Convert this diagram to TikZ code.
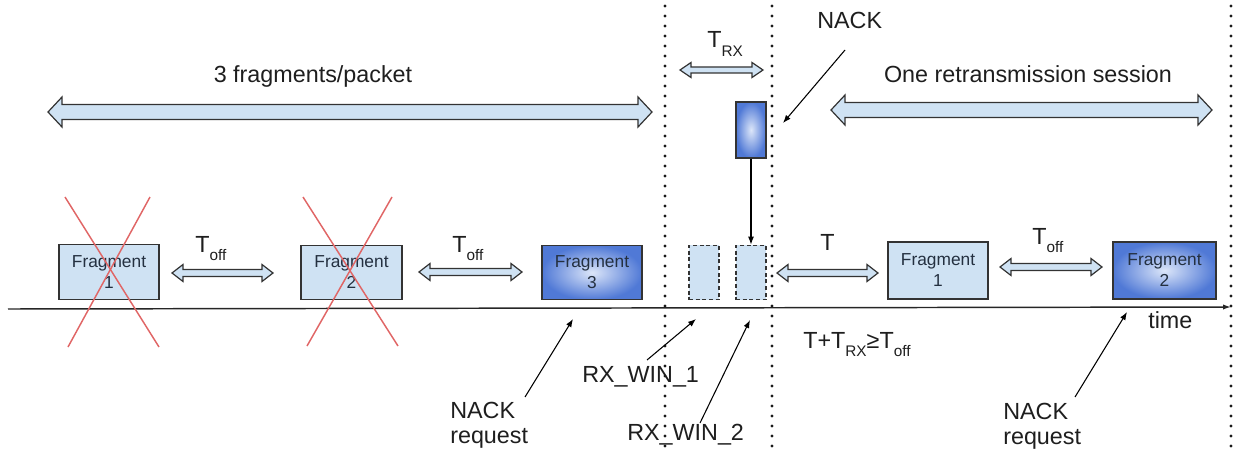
\documentclass[tikz,border=0pt]{standalone}
\usepackage{fontspec}
\setmainfont{Liberation Sans}
\usetikzlibrary{arrows.meta,calc}

\definecolor{lightfill}{HTML}{CFE2F3}
\definecolor{edge}{HTML}{333333}
\definecolor{crossred}{HTML}{E06666}
\definecolor{deepblue}{HTML}{5079D6}
\definecolor{paleblue}{HTML}{DCE6F9}
\definecolor{inktext}{HTML}{1E1E1E}
\definecolor{fragtext}{HTML}{243040}

% lowered subscript used in the timing labels
\newcommand\lowsub[1]{\raisebox{-6.3pt}{\fontsize{11.5}{12}\selectfont #1}}

% two-headed block arrow: start, end, half shaft, half head, head length
\newcommand\spanarrow[5]{%
  \draw[blockarrow] (#1) -- ($(#1)+(#5,#4)$) -- ($(#1)+(#5,#3)$)
    -- ($(#2)+(-#5,#3)$) -- ($(#2)+(-#5,#4)$) -- (#2)
    -- ($(#2)+(-#5,-#4)$) -- ($(#2)+(-#5,-#3)$)
    -- ($(#1)+(#5,-#3)$) -- ($(#1)+(#5,-#4)$) -- cycle;}

\tikzset{
  blockarrow/.style={fill=lightfill, draw=edge, line width=0.9pt, line join=miter},
  frag/.style={draw=edge, line width=0.9pt, fill=lightfill, inner sep=0pt,
    minimum width=75pt, minimum height=41pt, align=center,
    font=\fontsize{13}{15.75}\selectfont, text=fragtext},
  fragdark/.style={frag, shading=radial, inner color=paleblue, outer color=deepblue},
  rxwin/.style={draw=edge, line width=0.8pt, fill=lightfill, dash pattern=on 3pt off 2pt,
    inner sep=0pt, minimum width=22.5pt, minimum height=41pt},
  lbl/.style={inner sep=0pt, text=inktext, font=\fontsize{17.5}{19}\selectfont},
  dotline/.style={draw=black!90, line width=2.4pt, line cap=round, dash pattern=on 0pt off 7.5pt},
  cross/.style={draw=crossred, line width=1.1pt},
  ptr/.style={draw=black, line width=0.8pt, -{Latex[length=6pt,width=4.5pt]}},
  axis/.style={draw=black!85, line width=1.1pt, -{Latex[length=6pt,width=4pt]}}
}

\begin{document}
\begin{tikzpicture}[x=0.75pt, y=-0.75pt]
\useasboundingbox (0,0) rectangle (1234,453);

% time axis
\coordinate (t0) at (8,309);
\coordinate (t1) at (1231,307);
\draw[axis] (t0) -- (t1);

% dotted separators
\coordinate (d1a) at (665,6);   \coordinate (d1b) at (665,450);
\coordinate (d2a) at (772,6);   \coordinate (d2b) at (772,450);
\coordinate (d3a) at (1231,6);  \coordinate (d3b) at (1231,450);
\draw[dotline] (d1a) -- (d1b);
\draw[dotline] (d2a) -- (d2b);
\draw[dotline] (d3a) -- (d3b);

% first packet
\node[frag] (f1) at (109,272) {Fragment\\1};
\node[frag, minimum width=75.75pt] (f2) at (351.5,272.5) {Fragment\\2};
\node[fragdark] (f3) at (592,272.5) {Fragment\\3};

% lost fragments
\draw[cross] (65,197) -- (159,347);
\draw[cross] (150,197) -- (68,347);
\draw[cross] (303,197) -- (398,346);
\draw[cross] (392,197) -- (307,346);

% receive windows and the NACK
\node[rxwin] (w1) at (704,272.5) {};
\node[rxwin] (w2) at (751,272.5) {};
\node[fragdark, minimum width=22.5pt, minimum height=42pt] (nackbox) at (751,130) {};
\draw[ptr] (nackbox.south) -- (w2.north);

% retransmission session
\node[frag, minimum height=42.75pt] (r1) at (938,270.5) {Fragment\\1};
\node[fragdark, minimum width=77.25pt, minimum height=42.75pt] (r2) at (1164.5,270.5) {Fragment\\2};

% span arrows
\coordinate (p0) at (48,112);   \coordinate (p1) at (652,112);
\coordinate (s0) at (831,110);  \coordinate (s1) at (1212,110);
\coordinate (o1a) at (172,273); \coordinate (o1b) at (273,273);
\coordinate (o2a) at (419,272); \coordinate (o2b) at (522,272);
\coordinate (rxa) at (680,70);  \coordinate (rxb) at (763,70);
\coordinate (ta) at (777,273);  \coordinate (tb) at (878,273);
\coordinate (o3a) at (1000,267); \coordinate (o3b) at (1102,267);
\spanarrow{p0}{p1}{7.5}{15}{14}
\spanarrow{s0}{s1}{7.5}{15}{14}
\spanarrow{o1a}{o1b}{3.5}{8.5}{11}
\spanarrow{o2a}{o2b}{3.5}{8.5}{11}
\spanarrow{rxa}{rxb}{3}{7.5}{11}
\spanarrow{ta}{tb}{3.5}{8.5}{11}
\spanarrow{o3a}{o3b}{3.5}{8.5}{11}

% labels
\node[lbl, anchor=base] (pkt) at (313,83) {3 fragments/packet};
\node[lbl, anchor=base] (sess) at (1028,83) {One retransmission session};
\node[lbl, anchor=base west] (toff1) at (195,252) {T\lowsub{off}};
\node[lbl, anchor=base west] (toff2) at (452,252) {T\lowsub{off}};
\node[lbl, anchor=base west] (trx) at (707,48) {T\lowsub{RX}};
\node[lbl, anchor=base west] (tgap) at (820,250) {T};
\node[lbl, anchor=base west] (toff3) at (1032,244) {T\lowsub{off}};
\node[lbl, anchor=base west] (cond) at (803,348) {T+T\lowsub{RX}≥T\lowsub{off}};
\node[lbl, anchor=base west] (time) at (1148,328) {time};
\node[lbl, anchor=base west] (nack) at (817,29) {NACK};
\node[lbl, anchor=north west, align=left] (req1) at (450,402) {NACK\\request};
\node[lbl, anchor=north west, align=left] (req2) at (1003,403) {NACK\\request};
\node[lbl, anchor=base west] (rw1) at (582,382) {RX\_WIN\_1};
\node[lbl, anchor=base west] (rw2) at (627,440) {RX\_WIN\_2};

% pointers
\coordinate (nackT) at (845,50);   \coordinate (nackH) at (783,123);
\coordinate (q1T) at (525,397);    \coordinate (q1H) at (573,319);
\coordinate (q2T) at (1075,397);   \coordinate (q2H) at (1127,312);
\coordinate (w1T) at (647,360);    \coordinate (w1H) at (696,319);
\coordinate (w2T) at (700,423);    \coordinate (w2H) at (750,320);
\draw[ptr] (nackT) -- (nackH);
\draw[ptr] (q1T) -- (q1H);
\draw[ptr] (q2T) -- (q2H);
\draw[ptr] (w1T) -- (w1H);
\draw[ptr] (w2T) -- (w2H);
\end{tikzpicture}
\end{document}
